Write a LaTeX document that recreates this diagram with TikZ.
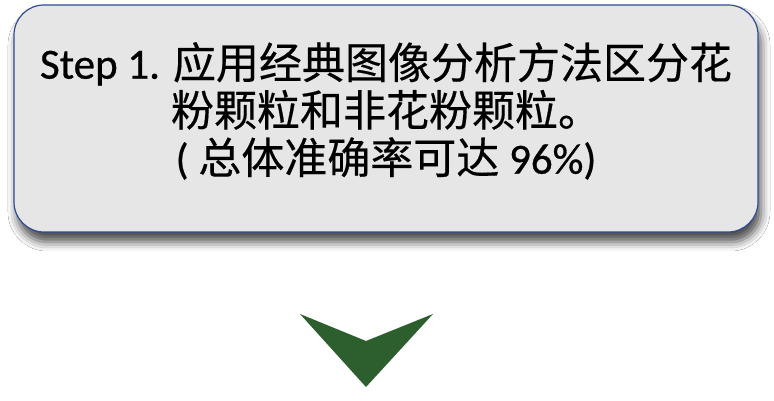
\documentclass[tikz,border=0pt]{standalone}
\usepackage{fontspec}
\setmainfont[FakeBold=0.7]{Carlito}
\newfontfamily\cjk[FakeBold=0.4]{Noto Sans CJK SC}
\usetikzlibrary{positioning}
\usetikzlibrary{shadows.blur}
\definecolor{boxfill}{HTML}{E6E6E6}
\definecolor{boxline}{HTML}{2F4B96}
\definecolor{arrowgreen}{HTML}{2D5E2E}
\tikzset{
 stepbox/.style={draw=boxline, line width=1.2pt, fill=boxfill, rounded corners=30pt,
  minimum width=744pt, minimum height=227pt,
  blur shadow={shadow xshift=3pt, shadow yshift=-10pt, shadow blur radius=9pt, shadow opacity=70}},
 steptext/.style={align=center, inner sep=0pt, font=\fontsize{43}{47.5}\selectfont}
}
\begin{document}
\begin{tikzpicture}[x=1pt,y=1pt]
\useasboundingbox[fill=white] (0,0) rectangle (774,401);
\node[stepbox] (box) at (386,282.5) {};
\node[steptext, anchor=north] (txt) at (386,359)
 {Step 1. {\cjk 应用经典图像分析方法区分花}\\
  {\cjk 粉颗粒和非花粉颗粒。}\\
  ( {\cjk 总体准确率可达} 96\%)};
\coordinate (tip) at (366,14);
\fill[arrowgreen] (300,87) -- (366,60) -- (433,87) -- (tip) -- cycle;
\end{tikzpicture}
\end{document}
